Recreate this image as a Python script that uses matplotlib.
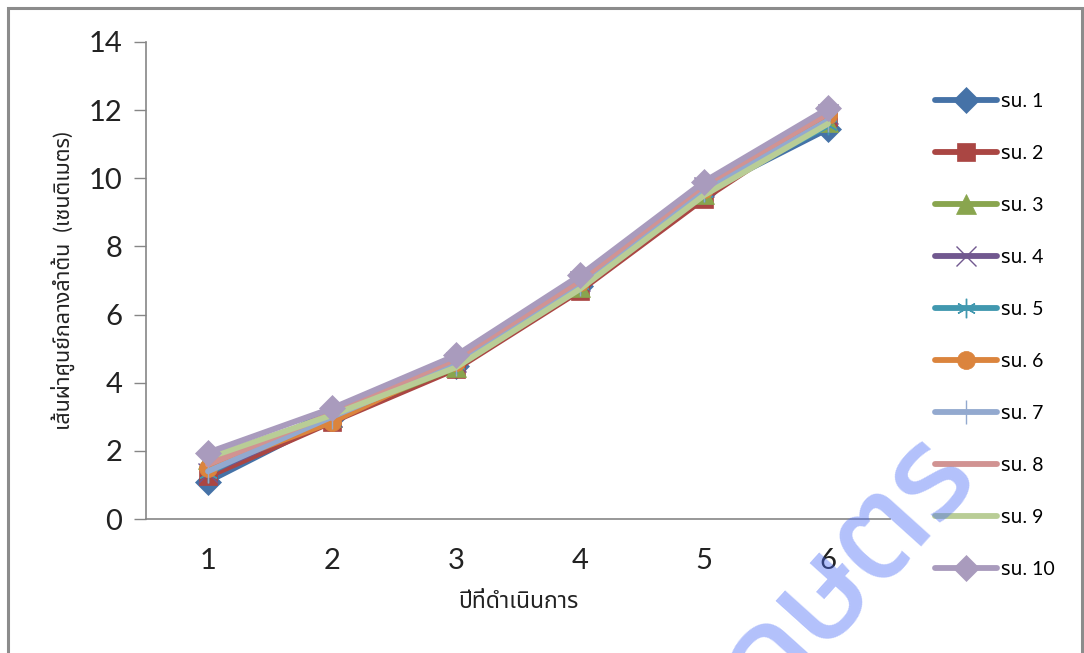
import matplotlib
matplotlib.use("Agg")
import matplotlib.pyplot as plt
from matplotlib.patches import Rectangle

plt.rcParams['font.family'] = ['Lato', 'Noto Sans Thai', 'DejaVu Sans']

# stem diameter (cm) per clone, year 1..6
years = [1, 2, 3, 4, 5, 6]
labels = ["รน. 1", "รน. 2", "รน. 3", "รน. 4", "รน. 5",
          "รน. 6", "รน. 7", "รน. 8", "รน. 9", "รน. 10"]
rn1 = [1.10, 2.95, 4.50, 6.85, 9.60, 11.45]
rn2 = [1.25, 2.85, 4.40, 6.70, 9.40, 11.80]
rn3 = [1.75, 3.00, 4.45, 6.80, 9.55, 11.65]
rn4 = [1.35, 3.00, 4.60, 7.00, 9.75, 11.90]
rn5 = [1.35, 3.20, 4.55, 6.90, 9.60, 11.55]
rn6 = [1.50, 2.85, 4.60, 6.95, 9.70, 11.85]
rn7 = [1.40, 3.00, 4.55, 6.90, 9.65, 11.70]
rn8 = [1.60, 3.10, 4.70, 7.00, 9.80, 11.90]
rn9 = [1.80, 3.05, 4.45, 6.75, 9.50, 11.60]
rn10 = [1.95, 3.25, 4.80, 7.15, 9.90, 12.05]
series = [rn1, rn2, rn3, rn4, rn5, rn6, rn7, rn8, rn9, rn10]

colors = ['#4572A7', '#AA4643', '#89A54E', '#71588F', '#4198AF',
          '#DB843D', '#93A9CF', '#D19392', '#B9CD96', '#A99BBD']
markers = ['D', 's', '^', 'x', (6, 2, 0), 'o', '|', 'None', 'None', 'D']
msizes = [13, 13, 14, 14, 14, 13, 17, 0, 0, 13]

fig = plt.figure(figsize=(10.84, 6.53), dpi=100)
ax = fig.add_axes([146/1084, 1 - 519/653, (890 - 146)/1084, (519 - 42)/653])

for i, vals in enumerate(series):
    thin = markers[i] in ('x', (6, 2, 0), '|')
    ax.plot(years, vals, color=colors[i], lw=4.2, marker=markers[i],
            markersize=msizes[i], markeredgecolor=colors[i],
            markeredgewidth=1.0 if thin else 0.5,
            solid_capstyle='round', label=labels[i], zorder=2 + i)

ax.set_xlim(0.5, 6.5)
ax.set_ylim(0, 14)
ax.set_xticks(years)
ax.set_yticks(range(0, 15, 2))
ax.tick_params(axis='x', length=0, pad=21, labelsize=21, labelcolor='#222222')
ax.tick_params(axis='y', length=9, width=1, color='#868686', pad=8,
               labelsize=21, labelcolor='#222222')
for s in ['top', 'right']:
    ax.spines[s].set_visible(False)
for s in ['left', 'bottom']:
    ax.spines[s].set_color('#868686')
    ax.spines[s].set_linewidth(1.2)

ax.set_xlabel("ปีที่ดำเนินการ", fontsize=16.5, labelpad=12, color='#222222')
ax.set_ylabel("เส้นผ่าศูนย์กลางลำต้น  (เซนติเมตร)", fontsize=15.5, labelpad=10,
              color='#222222')

fig.legend(loc='upper left', bbox_to_anchor=(935/1084, 1 - 93/653),
           frameon=False, fontsize=14, borderpad=0, handlelength=3.2,
           handletextpad=0.2, labelspacing=1.8, borderaxespad=0)

# outer chart frame
fig.patches.append(Rectangle((8/1084, -0.1), 1074/1084, 1.1 - 8/653,
                             transform=fig.transFigure, fill=False,
                             edgecolor='#8c8c8c', lw=2.2))

# watermark across the lower right corner
fig.text(958/1084, 1 - 455/653, "กรมวิชาการเกษตร", fontsize=95, family='Kanit',
         color='#4A6CF7', alpha=0.42, rotation=48, rotation_mode='anchor',
         ha='right', va='center', zorder=20)

fig.savefig("out.png", dpi=100)
